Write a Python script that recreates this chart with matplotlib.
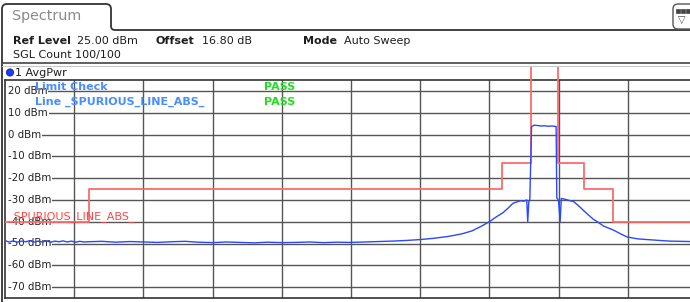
import matplotlib
matplotlib.use("Agg")
import matplotlib.pyplot as plt
from matplotlib.path import Path
from matplotlib.patches import PathPatch, FancyBboxPatch, Circle, Rectangle
from matplotlib.transforms import blended_transform_factory

# ---------------- data ----------------
y_ticks = [20, 10, 0, -10, -20, -30, -40, -50, -60, -70]
y_tick_labels = ["20 dBm", "10 dBm", "0 dBm", "-10 dBm", "-20 dBm", "-30 dBm",
                 "-40 dBm", "-50 dBm", "-60 dBm", "-70 dBm"]

# limit line (sweep-point units 0..1000, dBm); the centre section lies off-scale
limit_x = [0, 122, 122, 719, 719, 760, 760, 799, 799, 837, 837, 879, 879, 990]
limit_y = [-40, -40, -25, -25, -13, -13, 40, 40, -13, -13, -25, -25, -40, -40]

# AvgPwr trace
trace_x = [0, 6, 12, 18, 24, 30, 36, 42, 48, 54, 60, 66, 72, 78, 84, 90, 96, 102, 108, 114, 120,
           140, 160, 180, 200, 220, 240, 260, 280, 300, 320, 340, 360, 380, 400, 420, 440,
           460, 480, 500, 520, 540, 560, 580, 600, 620, 640, 660, 675, 690, 700, 710, 720,
           728, 734, 740, 745, 750, 754, 755.5, 757, 758.5, 761, 765, 770, 775, 780, 785, 790,
           796.5, 797.5, 800, 802.3, 804, 808, 815, 822, 830, 840, 850, 856, 865, 879, 890,
           899, 915, 937, 960, 990]
trace_y = [-48.7, -49.3, -48.8, -49.4, -48.9, -49.2, -48.7, -49.4, -48.9, -49.3, -48.8, -49.4,
           -48.9, -49.2, -48.8, -49.3, -48.9, -49.4, -49.0, -49.3, -49.2,
           -49.0, -49.4, -49.1, -49.3, -49.5, -49.2, -49.0, -49.4, -49.6, -49.3, -49.5, -49.7,
           -49.4, -49.6, -49.5, -49.3, -49.6, -49.4, -49.5, -49.3, -49.1, -48.9, -48.6, -48.2,
           -47.6, -46.8, -45.6, -44.2, -41.8, -40.0, -37.8, -35.8, -33.5, -31.6, -30.9, -30.4,
           -30.6, -30.0, -40.0, -31.0, -29.8, 3.6, 4.3, 4.1, 3.9, 4.0, 3.8, 3.9,
           3.7, -29.0, -30.2, -40.0, -29.3, -29.6, -30.2, -30.8, -33.0, -36.0, -38.8, -40.0,
           -42.0, -43.8, -45.6, -47.0, -47.9, -48.4, -48.9, -49.1]

# ---------------- layout ----------------
W, H = 690, 302
fig = plt.figure(figsize=(W / 100, H / 100), dpi=100)
fig.patch.set_facecolor("white")

# overlay axes in pixel coordinates for the frame / header
ov = fig.add_axes([0, 0, 1, 1], zorder=0)
ov.set_xlim(0, W)
ov.set_ylim(H, 0)
ov.axis("off")

# tab outline
verts = [(2, 302), (2, 9), (2, 4), (7, 4), (106, 4), (111, 4), (111, 9), (111, 26),
         (111, 30), (115, 30), (690, 30)]
codes = [Path.MOVETO, Path.LINETO, Path.CURVE3, Path.CURVE3, Path.LINETO, Path.CURVE3,
         Path.CURVE3, Path.LINETO, Path.CURVE3, Path.CURVE3, Path.LINETO]
ov.add_patch(PathPatch(Path(verts, codes), fill=False, edgecolor="#333333", lw=1.3))
ov.text(12, 16, "Spectrum", fontsize=10.3, color="#8a8a8a", va="center", ha="left")

# icon at top-right
ov.add_patch(FancyBboxPatch((673, 4), 30, 25, boxstyle="round,pad=0,rounding_size=5",
                            fill=False, edgecolor="#555555", lw=1.0))
for i in range(3):
    ov.add_patch(Rectangle((676 + i * 5, 9), 4, 4, facecolor="#444444", edgecolor="#444444", lw=0.5))
ov.text(682, 20, "▽", fontsize=7, color="#444444", ha="center", va="center")

# header lines
ov.plot([2, 690], [63, 63], color="#444444", lw=1.2)
ov.plot([2, 690], [66, 66], color="#c8c8c8", lw=0.8)

hdr = dict(fontsize=8, color="#1e1e1e", va="center", ha="left")
ov.text(13, 41, "Ref Level", fontweight="bold", **hdr)
ov.text(77, 41, "25.00 dBm", **hdr)
ov.text(155, 41, "Offset", fontweight="bold", **hdr)
ov.text(202, 41, "16.80 dB", **hdr)
ov.text(303, 41, "Mode", fontweight="bold", **hdr)
ov.text(344, 41, "Auto Sweep", **hdr)
ov.text(13, 55, "SGL Count 100/100", **hdr)

ov.add_patch(Circle((10, 72.5), 3.6, facecolor="#1a3cff", edgecolor="#1020a0", lw=0.6))
ov.text(15, 72.5, "1 AvgPwr", **hdr)

# clip region for the limit line (lets it reach into the trace-info bar)
clip_rect = Rectangle((5, 67), 685, 231, transform=ov.transData)

# ---------------- main plot ----------------
left_px, right_px, top_px, bot_px = 5, 690, 80, 298
ax = fig.add_axes([left_px / W, 1 - bot_px / H, (right_px - left_px) / W, (bot_px - top_px) / H],
                  zorder=1)
ax.set_facecolor("none")
ax.set_xlim(0, 990)
ax.set_ylim(-75, 25)
ax.set_xticks([])
ax.set_yticks([])
for s in ["left", "top", "bottom"]:
    ax.spines[s].set_color("#333333")
    ax.spines[s].set_linewidth(1.2)
ax.spines["right"].set_visible(False)

grid_c = "#555555"
for xv in range(100, 1000, 100):
    ax.axvline(xv, color=grid_c, lw=1.0, zorder=1)
for yv in y_ticks:
    ax.axhline(yv, xmin=3 / 685, color=grid_c, lw=1.0, zorder=1)

trf = blended_transform_factory(fig.transFigure, ax.transData)
for yv, lab in zip(y_ticks, y_tick_labels):
    ax.text(8 / W, yv, lab, transform=trf, fontsize=7.4, color="#222222", ha="left",
            va="center", zorder=3, clip_on=False,
            bbox=dict(facecolor="white", edgecolor="none", pad=0.6))

# limit line
lim_line, = ax.plot(limit_x, limit_y, color="#ff6a6a", lw=1.3, zorder=4)
lim_line.set_clip_path(clip_rect)
ax.text(8 / W, -37.7, "_SPURIOUS_LINE_ABS_", transform=trf, fontsize=8, color="#ff4545",
        ha="left", va="center", zorder=5, clip_on=False)

# trace
ax.plot(trace_x, trace_y, color="#2a48ff", lw=1.0, zorder=5)

# limit check texts
ax.text(35 / W, 21.9, "Limit Check", transform=trf, fontsize=8, fontweight="bold",
        color="#4a8dff", ha="left", va="center", zorder=6, clip_on=False)
ax.text(35 / W, 15.1, "Line _SPURIOUS_LINE_ABS_", transform=trf, fontsize=8, fontweight="bold",
        color="#4a8dff", ha="left", va="center", zorder=6, clip_on=False)
ax.text(264 / W, 21.9, "PASS", transform=trf, fontsize=8, fontweight="bold",
        color="#22dd22", ha="left", va="center", zorder=6, clip_on=False)
ax.text(264 / W, 15.1, "PASS", transform=trf, fontsize=8, fontweight="bold",
        color="#22dd22", ha="left", va="center", zorder=6, clip_on=False)

fig.savefig("out.png", dpi=100, facecolor="white")
